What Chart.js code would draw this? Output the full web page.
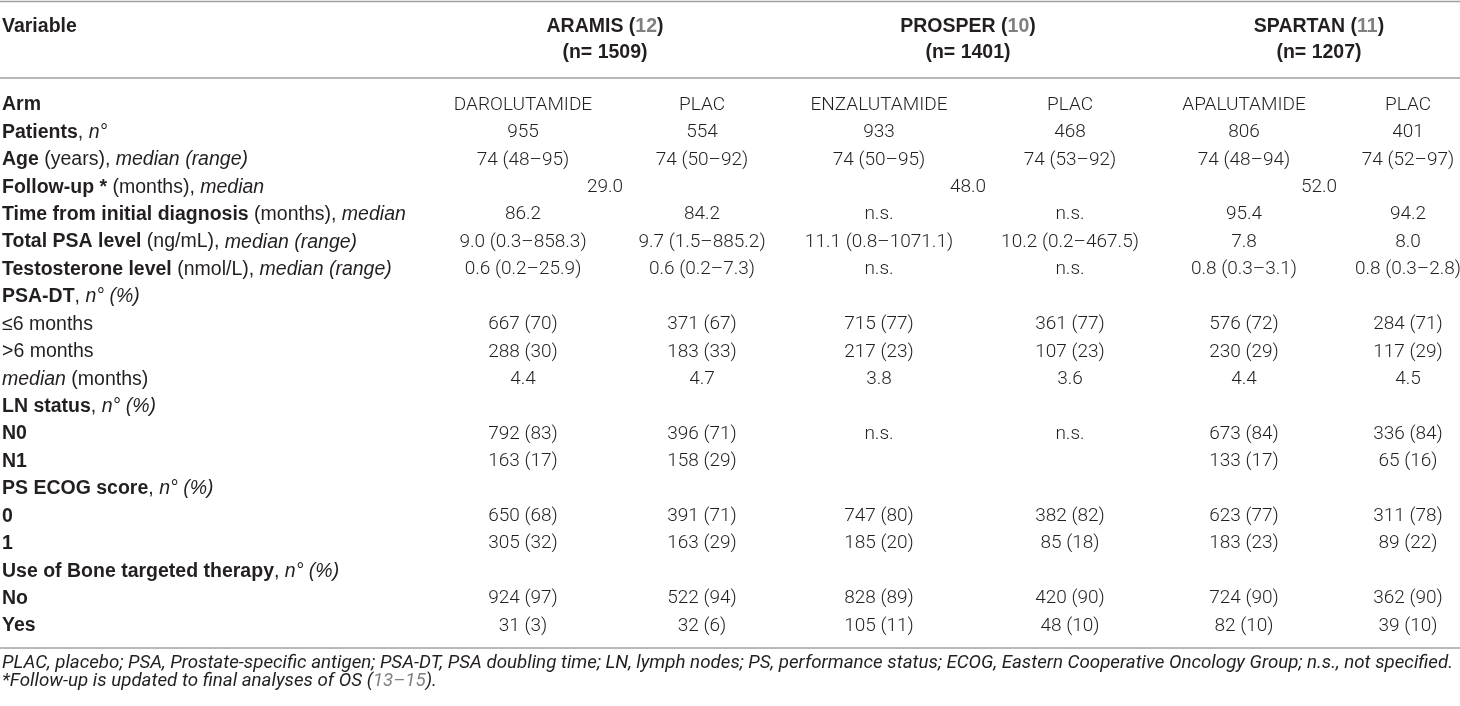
<!DOCTYPE html>
<html>
<head>
<meta charset="utf-8">
<script src="https://cdn.jsdelivr.net/npm/chart.js@4/dist/chart.umd.min.js"></script>
<style>
  html, body { margin: 0; padding: 0; background: #fff; }
  canvas { display: block; }
</style>
</head>
<body>
<canvas id="table_chart" width="1460" height="706"></canvas>
<script>
// Data
rowLabels = [
  "<b>Arm</b>",
  "<b>Patients</b>, <i>n°</i>",
  "<b>Age</b> (years), <i>median (range)</i>",
  "<b>Follow-up *</b> (months), <i>median</i>",
  "<b>Time from initial diagnosis</b> (months), <i>median</i>",
  "<b>Total PSA level</b> (ng/mL), <i>median (range)</i>",
  "<b>Testosterone level</b> (nmol/L), <i>median (range)</i>",
  "<b>PSA-DT</b>, <i>n° (%)</i>",
  "≤6 months",
  ">6 months",
  "<i>median</i> (months)",
  "<b>LN status</b>, <i>n° (%)</i>",
  "<b>N0</b>",
  "<b>N1</b>",
  "<b>PS ECOG score</b>, <i>n° (%)</i>",
  "<b>0</b>",
  "<b>1</b>",
  "<b>Use of Bone targeted therapy</b>, <i>n° (%)</i>",
  "<b>No</b>",
  "<b>Yes</b>"
]
trials = ["ARAMIS", "PROSPER", "SPARTAN"]
trialRefs = ["12", "10", "11"]
trialN = ["1509", "1401", "1207"]
followUp = ["29.0", "48.0", "52.0"]

darolutamide = ["DAROLUTAMIDE", "955", "74 (48–95)", "", "86.2", "9.0 (0.3–858.3)", "0.6 (0.2–25.9)", "",
  "667 (70)", "288 (30)", "4.4", "", "792 (83)", "163 (17)", "", "650 (68)", "305 (32)", "", "924 (97)", "31 (3)"]
placAramis = ["PLAC", "554", "74 (50–92)", "", "84.2", "9.7 (1.5–885.2)", "0.6 (0.2–7.3)", "",
  "371 (67)", "183 (33)", "4.7", "", "396 (71)", "158 (29)", "", "391 (71)", "163 (29)", "", "522 (94)", "32 (6)"]
enzalutamide = ["ENZALUTAMIDE", "933", "74 (50–95)", "", "n.s.", "11.1 (0.8–1071.1)", "n.s.", "",
  "715 (77)", "217 (23)", "3.8", "", "n.s.", "", "", "747 (80)", "185 (20)", "", "828 (89)", "105 (11)"]
placProsper = ["PLAC", "468", "74 (53–92)", "", "n.s.", "10.2 (0.2–467.5)", "n.s.", "",
  "361 (77)", "107 (23)", "3.6", "", "n.s.", "", "", "382 (82)", "85 (18)", "", "420 (90)", "48 (10)"]
apalutamide = ["APALUTAMIDE", "806", "74 (48–94)", "", "95.4", "7.8", "0.8 (0.3–3.1)", "",
  "576 (72)", "230 (29)", "4.4", "", "673 (84)", "133 (17)", "", "623 (77)", "183 (23)", "", "724 (90)", "82 (10)"]
placSpartan = ["PLAC", "401", "74 (52–97)", "", "94.2", "8.0", "0.8 (0.3–2.8)", "",
  "284 (71)", "117 (29)", "4.5", "", "336 (84)", "65 (16)", "", "311 (78)", "89 (22)", "", "362 (90)", "39 (10)"]

footnotes = [
  "<i>PLAC, placebo; PSA, Prostate-specific antigen; PSA-DT, PSA doubling time; LN, lymph nodes; PS, performance status; ECOG, Eastern Cooperative Oncology Group; n.s., not specified.</i>",
  "<i>*Follow-up is updated to final analyses of OS (</i><h>13–15</h><i>).</i>"
]

// Layout (table geometry, not data)
columns = [darolutamide, placAramis, enzalutamide, placProsper, apalutamide, placSpartan]
colCenters = [523, 702, 879, 1070, 1244, 1408]
groupCenters = [605, 968, 1319]
followUpRow = 3
ink = "#231f20"
grey = "#808080"
rule = "#a0a0a0"
labelFamily = '"Liberation Sans", Arial, sans-serif'
valueFont = '300 19px Roboto, "Liberation Sans", sans-serif'
labelSize = 19.5

function parseRich(str) {
  var segs = [], re = /<(b|i|g|h)>(.*?)<\/\1>|([^<]+)/g, m
  while ((m = re.exec(str)) !== null) {
    if (m[3] !== undefined) segs.push({ style: "r", text: m[3] })
    else segs.push({ style: m[1], text: m[2] })
  }
  return segs
}

function segFont(style, size, family) {
  if (style == "b" || style == "g") return "bold " + size + "px " + family
  if (style == "i" || style == "h") return "italic " + size + "px " + family
  return size + "px " + family
}

function richWidth(ctx, segs, size, family) {
  var w = 0
  segs.forEach(function (s) { ctx.font = segFont(s.style, size, family); w += ctx.measureText(s.text).width })
  return w
}

function drawRich(ctx, str, x, y, align, size, family) {
  var segs = parseRich(str)
  var w = richWidth(ctx, segs, size, family)
  var cx = align == "center" ? x - w / 2 : x
  ctx.textAlign = "left"
  segs.forEach(function (s) {
    ctx.font = segFont(s.style, size, family)
    ctx.fillStyle = (s.style == "g" || s.style == "h") ? grey : ink
    ctx.fillText(s.text, cx, y)
    cx += ctx.measureText(s.text).width
  })
}

function hline(ctx, y, x0, x1, w) {
  ctx.beginPath()
  ctx.strokeStyle = rule
  ctx.lineWidth = w
  ctx.moveTo(x0, y)
  ctx.lineTo(x1, y)
  ctx.stroke()
}

var tablePlugin = {
  id: "tableText",
  afterDatasetsDraw: function (chart) {
    var ctx = chart.ctx, ys = chart.scales.y, xs = chart.scales.x
    var left = xs.getPixelForValue(0), right = xs.getPixelForValue(1460)
    ctx.save()
    ctx.textBaseline = "middle"

    // rules
    hline(ctx, 1.5, left, right, 1.5)
    hline(ctx, 78, left, right, 1.5)
    hline(ctx, 648, left, right, 1.5)

    // header
    drawRich(ctx, "<b>Variable</b>", 2, 27, "left", labelSize, labelFamily)
    trials.forEach(function (t, g) {
      drawRich(ctx, "<b>" + t + " (</b><g>" + trialRefs[g] + "</g><b>)</b>", groupCenters[g], 27, "center", labelSize, labelFamily)
      drawRich(ctx, "<b>(n= " + trialN[g] + ")</b>", groupCenters[g], 53, "center", labelSize, labelFamily)
    })

    // row labels
    rowLabels.forEach(function (lab, i) {
      drawRich(ctx, lab, 2, ys.getPixelForValue(i), "left", labelSize, labelFamily)
    })

    // cell values at the scatter points
    ctx.font = valueFont
    ctx.fillStyle = ink
    ctx.textAlign = "center"
    chart.data.datasets.forEach(function (ds, d) {
      var meta = chart.getDatasetMeta(d)
      meta.data.forEach(function (pt, k) { ctx.fillText(ds.cells[k], pt.x, pt.y) })
    })

    // footnotes, sized to span the table width
    var noteFamily = '300 Roboto, "Liberation Sans", sans-serif'
    var fam = 'Roboto, "Liberation Sans", sans-serif'
    var w17 = richWidth(ctx, parseRich(footnotes[0]), 17, fam)
    var noteSize = 17 * (1452 / w17)
    drawRich(ctx, footnotes[0], 2, 663, "left", noteSize, fam)
    drawRich(ctx, footnotes[1], 2, 681, "left", noteSize, fam)
    ctx.restore()
  }
}

var datasets = columns.map(function (col, j) {
  var pts = [], cells = []
  col.forEach(function (v, i) {
    if (v !== "") { pts.push({ x: colCenters[j], y: i }); cells.push(v) }
  })
  return { data: pts, cells: cells, pointRadius: 0, pointHoverRadius: 0 }
})
datasets.push({
  data: followUp.map(function (v, g) { return { x: groupCenters[g], y: followUpRow } }),
  cells: followUp,
  pointRadius: 0,
  pointHoverRadius: 0
})

var config = {
  type: "scatter",
  data: { datasets: datasets },
  options: {
    responsive: false,
    animation: false,
    events: [],
    layout: { padding: { top: 91.3, bottom: 66.3, left: 0, right: 0 } },
    plugins: { legend: { display: false }, tooltip: { enabled: false } },
    scales: {
      x: { type: "linear", min: 0, max: 1460, display: false },
      y: { type: "linear", min: -0.5, max: rowLabels.length - 0.5, reverse: true, display: false }
    }
  },
  plugins: [tablePlugin]
}

var ctx = document.getElementById("table_chart")
var table_chart = new Chart(ctx, config)
</script>
</body>
</html>
